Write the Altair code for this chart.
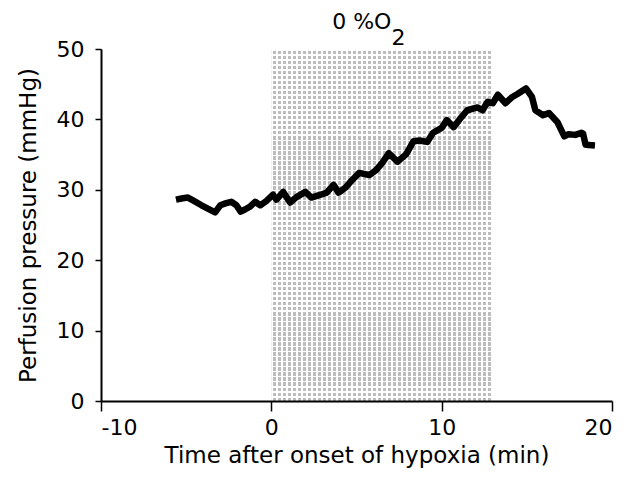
import altair as alt
import pandas as pd

# Perfusion pressure trace
time_min = [-5.6, -5.2, -4.9, -4.6, -4.1, -3.7, -3.3, -3.0, -2.65, -2.35, -2.05, -1.8,
            -1.55, -1.25, -0.95, -0.65, -0.3, 0.1, 0.3, 0.7, 1.1, 1.5, 2.0, 2.35, 2.9,
            3.25, 3.65, 3.95, 4.35, 4.75, 5.15, 5.75, 6.15, 6.5, 6.9, 7.4, 7.9, 8.35,
            8.7, 9.15, 9.5, 10.0, 10.3, 10.7, 11.05, 11.5, 12.1, 12.4, 12.7, 13.0, 13.3,
            13.75, 14.1, 14.45, 14.95, 15.3, 15.5, 15.95, 16.3, 16.8, 17.2, 17.45, 17.85,
            18.2, 18.3, 18.45, 19.0]
pressure_mmhg = [28.6, 28.8, 28.9, 28.5, 27.8, 27.3, 26.8, 27.8, 28.1, 28.3, 27.8, 26.9,
                 27.2, 27.6, 28.3, 27.8, 28.4, 29.3, 28.6, 29.7, 28.2, 29.0, 29.7, 28.9, 29.3,
                 29.6, 30.7, 29.6, 30.3, 31.4, 32.4, 32.1, 32.8, 33.8, 35.2, 34.0, 35.0, 36.9,
                 37.0, 36.8, 38.1, 38.8, 39.9, 38.9, 40.0, 41.3, 41.7, 41.3, 42.5, 42.3, 43.5,
                 42.3, 43.1, 43.6, 44.4, 43.2, 41.3, 40.6, 40.9, 39.6, 37.6, 37.9, 37.8,
                 38.1, 38.0, 36.4, 36.3]

# Hypoxia period (shaded)
hypoxia_start = [0.0]
hypoxia_end = [12.9]
hypoxia_bottom = [0]
hypoxia_top = [50]

# Axis ticks
x_ticks = [-10, 0, 10, 20]
y_ticks = [0, 10, 20, 30, 40, 50]

# Annotation "0 %O2"
label_main = ["0 %O"]
label_sub = ["2"]
label_x = [7.05]
label_main_y = [52.8]
label_sub_y = [50.6]

FONT = "DejaVu Sans"

line_df = pd.DataFrame({"t": time_min, "p": pressure_mmhg})
shade_df = pd.DataFrame({"t": hypoxia_start, "t2": hypoxia_end,
                         "p": hypoxia_bottom, "p2": hypoxia_top})
main_df = pd.DataFrame({"t": label_x, "p": label_main_y, "txt": label_main})
sub_df = pd.DataFrame({"t": label_x, "p": label_sub_y, "txt": label_sub})

xscale = alt.Scale(domain=[-10, 20], nice=False, zero=False)
yscale = alt.Scale(domain=[0, 50], nice=False, zero=False)

x_title = "Time after onset of hypoxia (min)"
y_title = "Perfusion pressure (mmHg)"

hyphen = "replace(datum.label, '\u2212', '-')"
xaxis = alt.Axis(values=x_ticks, tickSize=10, labelPadding=6, titlePadding=6,
                 zindex=1, labelExpr=hyphen)
yaxis = alt.Axis(values=y_ticks, tickSize=6, labelPadding=11, titlePadding=16, zindex=1)

X = alt.X("t:Q", scale=xscale, axis=xaxis, title=x_title)
Y = alt.Y("p:Q", scale=yscale, axis=yaxis, title=y_title)


# Cross-hatch texture for the shaded period: grey base with thin white grid lines
def stripes(n_periods, white_frac, horizontal):
    clear = "rgba(255,255,255,0)"
    stops = []
    for i in range(n_periods):
        a = i / n_periods
        b = (i + white_frac) / n_periods
        c = (i + 1) / n_periods
        stops += [alt.GradientStop(offset=a, color="white"),
                  alt.GradientStop(offset=b, color="white"),
                  alt.GradientStop(offset=b, color=clear),
                  alt.GradientStop(offset=c, color=clear)]
    if horizontal:
        return alt.LinearGradient(gradient="linear", stops=stops, x1=0, x2=0, y1=0, y2=1)
    return alt.LinearGradient(gradient="linear", stops=stops, x1=0, x2=1, y1=0, y2=0)


shade = alt.Chart(shade_df).mark_rect(fill="#bdbdbd").encode(
    x=X, x2="t2:Q", y=Y, y2="p2:Q"
)
shade_v = alt.Chart(shade_df).mark_rect(fill=stripes(44, 0.32, False)).encode(
    x=X, x2="t2:Q", y=Y, y2="p2:Q"
)
shade_h = alt.Chart(shade_df).mark_rect(fill=stripes(70, 0.32, True)).encode(
    x=X, x2="t2:Q", y=Y, y2="p2:Q"
)

trace = alt.Chart(line_df).mark_line(
    color="black", strokeWidth=6.5, strokeJoin="round", strokeCap="butt"
).encode(x=X, y=Y)

txt_main = alt.Chart(main_df).mark_text(
    align="right", baseline="alphabetic", font=FONT, fontSize=22, color="black", clip=False
).encode(x=X, y=Y, text="txt:N")

txt_sub = alt.Chart(sub_df).mark_text(
    align="left", baseline="alphabetic", font=FONT, fontSize=22, color="black", clip=False
).encode(x=X, y=Y, text="txt:N")

chart = alt.layer(shade, shade_v, shade_h, trace, txt_main, txt_sub).properties(
    width=511,
    height=352,
    autosize=alt.AutoSizeParams(type="none"),
    padding={"left": 93, "top": 41, "right": 12, "bottom": 71},
).configure_view(
    stroke=None
).configure_axis(
    grid=False,
    domainColor="black",
    domainWidth=2,
    tickColor="black",
    tickWidth=1.5,
    labelColor="black",
    labelFont=FONT,
    labelFontSize=22,
    titleColor="black",
    titleFont=FONT,
    titleFontSize=23,
    titleFontWeight="normal",
)

chart.save("out.html", embed_options={"renderer": "svg", "actions": False})
